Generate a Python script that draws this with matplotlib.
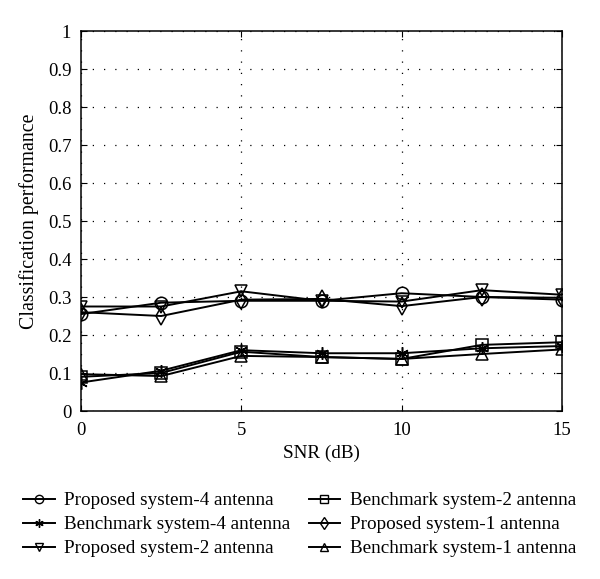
import matplotlib
matplotlib.use("Agg")
import matplotlib.pyplot as plt
from matplotlib.lines import Line2D

plt.rcParams['font.family'] = ['Liberation Serif', 'DejaVu Serif']

snr = [0, 2.5, 5, 7.5, 10, 12.5, 15]
proposed_4 = [0.255, 0.285, 0.29, 0.29, 0.31, 0.30, 0.293]
benchmark_4 = [0.075, 0.106, 0.16, 0.152, 0.152, 0.165, 0.171]
proposed_2 = [0.275, 0.275, 0.315, 0.29, 0.288, 0.318, 0.306]
benchmark_2 = [0.09, 0.10, 0.156, 0.142, 0.137, 0.174, 0.181]
proposed_1 = [0.26, 0.25, 0.293, 0.295, 0.276, 0.30, 0.298]
benchmark_1 = [0.097, 0.092, 0.145, 0.142, 0.137, 0.15, 0.162]

series = [
    ("Proposed system-4 antenna", proposed_4, 'o'),
    ("Benchmark system-4 antenna", benchmark_4, (6, 2, 0)),
    ("Proposed system-2 antenna", proposed_2, 'v'),
    ("Benchmark system-2 antenna", benchmark_2, 's'),
    ("Proposed system-1 antenna", proposed_1, 'd'),
    ("Benchmark system-1 antenna", benchmark_1, '^'),
]

fig = plt.figure(figsize=(6, 5.79), dpi=100)
ax = fig.add_axes([81/600, 1-411/579, (562-81)/600, (411-31)/579])

handles = []
for label, vals, m in series:
    ax.plot(snr, vals, color='black', lw=1.4, marker=m, markersize=9,
            markerfacecolor='none', markeredgecolor='black', markeredgewidth=1.1)
    handles.append(Line2D([0], [0], color='black', lw=1.4, marker=m, markersize=6,
                          markerfacecolor='none', markeredgecolor='black',
                          markeredgewidth=1.0, label=label))

ax.set_xlim(0, 15)
ax.set_ylim(0, 1)
ax.set_xticks([0, 5, 10, 15])
ax.set_yticks([i/10 for i in range(11)])
ax.set_yticklabels(['0', '0.1', '0.2', '0.3', '0.4', '0.5', '0.6', '0.7', '0.8', '0.9', '1'])
ax.grid(True, linestyle=(0, (1, 8)), color='black', lw=0.9)
ax.tick_params(axis='both', direction='in', length=4, labelsize=13.5, width=0.8, top=True, right=True)
ax.tick_params(axis='x', pad=8)
ax.tick_params(axis='y', pad=7)
for s in ax.spines.values():
    s.set_linewidth(1.1)
ax.set_xlabel("SNR (dB)", fontsize=13.8, labelpad=4)
ax.set_ylabel("Classification performance", fontsize=14.3, labelpad=6)

fig.legend(handles=handles, ncol=2, loc='upper left', bbox_to_anchor=(23/600, 1-492/579),
           frameon=False, fontsize=13.8, handlelength=1.65, handletextpad=0.5,
           columnspacing=0.95, labelspacing=0.34, borderaxespad=0, borderpad=0)

fig.savefig("out.png", dpi=100)
